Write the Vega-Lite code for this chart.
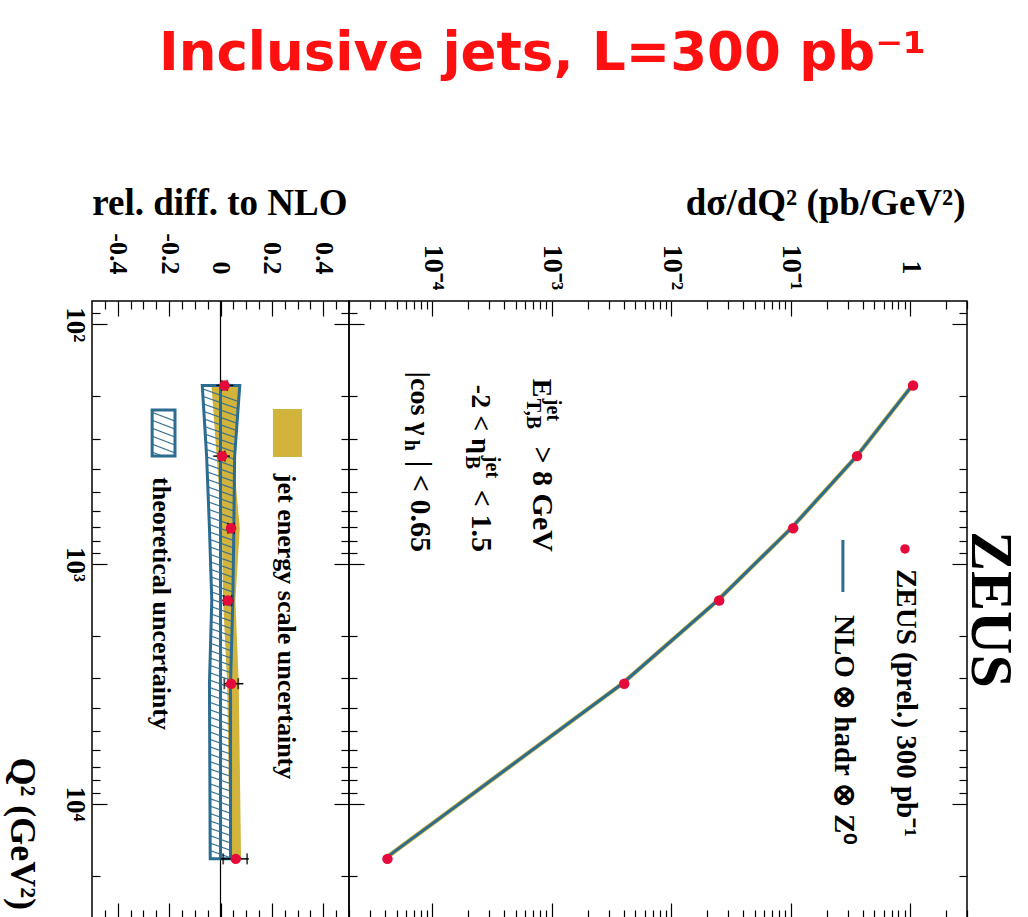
{
  "$schema": "https://vega.github.io/schema/vega-lite/v6.json",
  "background": "white",
  "autosize": {"type": "pad"},
  "padding": {"left": 2, "top": 28, "right": 0, "bottom": 0},
  "title": {
    "text": "Inclusive jets, L=300 pb⁻¹",
    "font": "DejaVu Sans",
    "fontSize": 53,
    "fontWeight": "bold",
    "color": "#ff1010",
    "anchor": "start",
    "frame": "group",
    "baseline": "alphabetic",
    "offset": 60,
    "dx": 67
  },
  "datasets": {
    "xsec": [
      {"q2": 180, "xs": 1.06, "nlo": 1.044},
      {"q2": 355, "xs": 0.36, "nlo": 0.358},
      {"q2": 710, "xs": 0.105, "nlo": 0.101},
      {"q2": 1420, "xs": 0.0252, "nlo": 0.0245},
      {"q2": 3160, "xs": 0.00404, "nlo": 0.00388},
      {"q2": 17000, "xs": 0.000042, "nlo": 0.0000397}
    ],
    "ratio": [
      {"q2": 180, "r": 0.0155, "tot_lo": -0.016, "tot_hi": 0.05, "stat_lo": 0.005, "stat_hi": 0.026, "jes_lo": -0.035, "jes_hi": 0.072, "th_lo": -0.071, "th_hi": 0.075},
      {"q2": 355, "r": 0.0066, "tot_lo": -0.028, "tot_hi": 0.036, "stat_lo": -0.004, "stat_hi": 0.017, "jes_lo": -0.015, "jes_hi": 0.05, "th_lo": -0.054, "th_hi": 0.055},
      {"q2": 710, "r": 0.041, "tot_lo": 0.022, "tot_hi": 0.06, "stat_lo": 0.029, "stat_hi": 0.053, "jes_lo": 0.005, "jes_hi": 0.075, "th_lo": -0.043, "th_hi": 0.052},
      {"q2": 1420, "r": 0.028, "tot_lo": 0.006, "tot_hi": 0.05, "stat_lo": 0.013, "stat_hi": 0.043, "jes_lo": 0.01, "jes_hi": 0.058, "th_lo": -0.034, "th_hi": 0.048},
      {"q2": 3160, "r": 0.0415, "tot_lo": 0.015, "tot_hi": 0.089, "stat_lo": 0.015, "stat_hi": 0.069, "jes_lo": 0.026, "jes_hi": 0.071, "th_lo": -0.043, "th_hi": 0.039},
      {"q2": 17000, "r": 0.0594, "tot_lo": 0.0, "tot_hi": 0.11, "stat_lo": 0.0105, "stat_hi": 0.1036, "jes_lo": 0.036, "jes_hi": 0.08, "th_lo": -0.04, "th_hi": 0.039}
    ]
  },
  "spacing": 0,
  "bounds": "flush",
  "resolve": {"scale": {"x": "independent", "y": "independent"}},
  "hconcat": [
    {
      "width": 257,
      "height": 617,
      "resolve": {"axis": {"x": "independent", "y": "independent"}},
      "layer": [
        {
          "data": {"values": [{}]},
          "mark": {"type": "rule", "color": "black", "strokeWidth": 1.2},
          "encoding": {
            "x": {"datum": 0, "type": "quantitative", "scale": {"domain": [-0.5, 0.5]}, "axis": null}
          }
        },
        {
          "data": {"name": "ratio"},
          "mark": {"type": "area", "orient": "horizontal", "color": "#d2b33c"},
          "encoding": {
            "y": {
              "field": "q2", "type": "quantitative",
              "scale": {"type": "log", "domain": [80, 30000], "reverse": true},
              "axis": {
                "orient": "left",
                "values": [90, 100, 200, 300, 400, 500, 600, 700, 800, 900, 1000, 2000, 3000, 4000, 5000, 6000, 7000, 8000, 9000, 10000, 20000],
                "tickSize": {"condition": {"test": "abs(log(datum.value)/LN10 - round(log(datum.value)/LN10)) < 0.001", "value": -15}, "value": -8},
                "labelExpr": "abs(log(datum.value)/LN10 - round(log(datum.value)/LN10)) < 0.001 ? ['10²','10³','10⁴'][round(log(datum.value)/LN10)-2] : ''",
                "labelAngle": 90,
                "labelAlign": "center",
                "labelBaseline": "top",
                "labelPadding": 20,
                "labelFontSize": 27,
                "title": "Q² (GeV²)",
                "titleFontSize": 36,
                "titleAngle": 90,
                "titleAlign": "left",
                "titleBaseline": "alphabetic",
                "titleX": -82,
                "titleY": 456
              }
            },
            "x": {
              "field": "jes_lo", "type": "quantitative",
              "scale": {"domain": [-0.5, 0.5]},
              "axis": {
                "orient": "top",
                "values": [-0.45, -0.4, -0.35, -0.3, -0.25, -0.2, -0.15, -0.1, -0.05, 0, 0.05, 0.1, 0.15, 0.2, 0.25, 0.3, 0.35, 0.4, 0.45],
                "tickSize": {"condition": {"test": "abs(datum.value*5 - round(datum.value*5)) < 0.001", "value": -15}, "value": -8},
                "labelExpr": "abs(datum.value*5 - round(datum.value*5)) < 0.001 ? (abs(datum.value) < 0.001 ? '0' : (datum.value < 0 ? '-' : '') + format(abs(datum.value), '.1f')) : ''",
                "labelAngle": 90,
                "labelAlign": "right",
                "labelBaseline": "middle",
                "labelPadding": 42,
                "labelFontSize": 26,
                "title": "rel. diff. to NLO",
                "titleFontSize": 37,
                "titleAngle": 0,
                "titleAlign": "right",
                "titleBaseline": "alphabetic",
                "titleX": 255,
                "titleY": -87
              }
            },
            "x2": {"field": "jes_hi"}
          }
        },
        {
          "data": {"name": "ratio"},
          "mark": {
            "type": "area",
            "orient": "horizontal",
            "stroke": "#2b6c90",
            "strokeWidth": 3,
            "fill": {
              "gradient": "linear", "x1": 0.028, "y1": 0, "x2": 0, "y2": 1,
              "stops": [
                {"offset": 0.0053, "color": "rgba(43,108,144,0)"}, {"offset": 0.0078, "color": "#2b6c90"}, {"offset": 0.0103, "color": "rgba(43,108,144,0)"},
                {"offset": 0.0209, "color": "rgba(43,108,144,0)"}, {"offset": 0.0234, "color": "#2b6c90"}, {"offset": 0.0259, "color": "rgba(43,108,144,0)"},
                {"offset": 0.0366, "color": "rgba(43,108,144,0)"}, {"offset": 0.0391, "color": "#2b6c90"}, {"offset": 0.0416, "color": "rgba(43,108,144,0)"},
                {"offset": 0.0522, "color": "rgba(43,108,144,0)"}, {"offset": 0.0547, "color": "#2b6c90"}, {"offset": 0.0572, "color": "rgba(43,108,144,0)"},
                {"offset": 0.0678, "color": "rgba(43,108,144,0)"}, {"offset": 0.0703, "color": "#2b6c90"}, {"offset": 0.0728, "color": "rgba(43,108,144,0)"},
                {"offset": 0.0834, "color": "rgba(43,108,144,0)"}, {"offset": 0.0859, "color": "#2b6c90"}, {"offset": 0.0884, "color": "rgba(43,108,144,0)"},
                {"offset": 0.0991, "color": "rgba(43,108,144,0)"}, {"offset": 0.1016, "color": "#2b6c90"}, {"offset": 0.1041, "color": "rgba(43,108,144,0)"},
                {"offset": 0.1147, "color": "rgba(43,108,144,0)"}, {"offset": 0.1172, "color": "#2b6c90"}, {"offset": 0.1197, "color": "rgba(43,108,144,0)"},
                {"offset": 0.1303, "color": "rgba(43,108,144,0)"}, {"offset": 0.1328, "color": "#2b6c90"}, {"offset": 0.1353, "color": "rgba(43,108,144,0)"},
                {"offset": 0.1459, "color": "rgba(43,108,144,0)"}, {"offset": 0.1484, "color": "#2b6c90"}, {"offset": 0.1509, "color": "rgba(43,108,144,0)"},
                {"offset": 0.1616, "color": "rgba(43,108,144,0)"}, {"offset": 0.1641, "color": "#2b6c90"}, {"offset": 0.1666, "color": "rgba(43,108,144,0)"},
                {"offset": 0.1772, "color": "rgba(43,108,144,0)"}, {"offset": 0.1797, "color": "#2b6c90"}, {"offset": 0.1822, "color": "rgba(43,108,144,0)"},
                {"offset": 0.1928, "color": "rgba(43,108,144,0)"}, {"offset": 0.1953, "color": "#2b6c90"}, {"offset": 0.1978, "color": "rgba(43,108,144,0)"},
                {"offset": 0.2084, "color": "rgba(43,108,144,0)"}, {"offset": 0.2109, "color": "#2b6c90"}, {"offset": 0.2134, "color": "rgba(43,108,144,0)"},
                {"offset": 0.2241, "color": "rgba(43,108,144,0)"}, {"offset": 0.2266, "color": "#2b6c90"}, {"offset": 0.2291, "color": "rgba(43,108,144,0)"},
                {"offset": 0.2397, "color": "rgba(43,108,144,0)"}, {"offset": 0.2422, "color": "#2b6c90"}, {"offset": 0.2447, "color": "rgba(43,108,144,0)"},
                {"offset": 0.2553, "color": "rgba(43,108,144,0)"}, {"offset": 0.2578, "color": "#2b6c90"}, {"offset": 0.2603, "color": "rgba(43,108,144,0)"},
                {"offset": 0.2709, "color": "rgba(43,108,144,0)"}, {"offset": 0.2734, "color": "#2b6c90"}, {"offset": 0.2759, "color": "rgba(43,108,144,0)"},
                {"offset": 0.2866, "color": "rgba(43,108,144,0)"}, {"offset": 0.2891, "color": "#2b6c90"}, {"offset": 0.2916, "color": "rgba(43,108,144,0)"},
                {"offset": 0.3022, "color": "rgba(43,108,144,0)"}, {"offset": 0.3047, "color": "#2b6c90"}, {"offset": 0.3072, "color": "rgba(43,108,144,0)"},
                {"offset": 0.3178, "color": "rgba(43,108,144,0)"}, {"offset": 0.3203, "color": "#2b6c90"}, {"offset": 0.3228, "color": "rgba(43,108,144,0)"},
                {"offset": 0.3334, "color": "rgba(43,108,144,0)"}, {"offset": 0.3359, "color": "#2b6c90"}, {"offset": 0.3384, "color": "rgba(43,108,144,0)"},
                {"offset": 0.3491, "color": "rgba(43,108,144,0)"}, {"offset": 0.3516, "color": "#2b6c90"}, {"offset": 0.3541, "color": "rgba(43,108,144,0)"},
                {"offset": 0.3647, "color": "rgba(43,108,144,0)"}, {"offset": 0.3672, "color": "#2b6c90"}, {"offset": 0.3697, "color": "rgba(43,108,144,0)"},
                {"offset": 0.3803, "color": "rgba(43,108,144,0)"}, {"offset": 0.3828, "color": "#2b6c90"}, {"offset": 0.3853, "color": "rgba(43,108,144,0)"},
                {"offset": 0.3959, "color": "rgba(43,108,144,0)"}, {"offset": 0.3984, "color": "#2b6c90"}, {"offset": 0.4009, "color": "rgba(43,108,144,0)"},
                {"offset": 0.4116, "color": "rgba(43,108,144,0)"}, {"offset": 0.4141, "color": "#2b6c90"}, {"offset": 0.4166, "color": "rgba(43,108,144,0)"},
                {"offset": 0.4272, "color": "rgba(43,108,144,0)"}, {"offset": 0.4297, "color": "#2b6c90"}, {"offset": 0.4322, "color": "rgba(43,108,144,0)"},
                {"offset": 0.4428, "color": "rgba(43,108,144,0)"}, {"offset": 0.4453, "color": "#2b6c90"}, {"offset": 0.4478, "color": "rgba(43,108,144,0)"},
                {"offset": 0.4584, "color": "rgba(43,108,144,0)"}, {"offset": 0.4609, "color": "#2b6c90"}, {"offset": 0.4634, "color": "rgba(43,108,144,0)"},
                {"offset": 0.4741, "color": "rgba(43,108,144,0)"}, {"offset": 0.4766, "color": "#2b6c90"}, {"offset": 0.4791, "color": "rgba(43,108,144,0)"},
                {"offset": 0.4897, "color": "rgba(43,108,144,0)"}, {"offset": 0.4922, "color": "#2b6c90"}, {"offset": 0.4947, "color": "rgba(43,108,144,0)"},
                {"offset": 0.5053, "color": "rgba(43,108,144,0)"}, {"offset": 0.5078, "color": "#2b6c90"}, {"offset": 0.5103, "color": "rgba(43,108,144,0)"},
                {"offset": 0.5209, "color": "rgba(43,108,144,0)"}, {"offset": 0.5234, "color": "#2b6c90"}, {"offset": 0.5259, "color": "rgba(43,108,144,0)"},
                {"offset": 0.5366, "color": "rgba(43,108,144,0)"}, {"offset": 0.5391, "color": "#2b6c90"}, {"offset": 0.5416, "color": "rgba(43,108,144,0)"},
                {"offset": 0.5522, "color": "rgba(43,108,144,0)"}, {"offset": 0.5547, "color": "#2b6c90"}, {"offset": 0.5572, "color": "rgba(43,108,144,0)"},
                {"offset": 0.5678, "color": "rgba(43,108,144,0)"}, {"offset": 0.5703, "color": "#2b6c90"}, {"offset": 0.5728, "color": "rgba(43,108,144,0)"},
                {"offset": 0.5834, "color": "rgba(43,108,144,0)"}, {"offset": 0.5859, "color": "#2b6c90"}, {"offset": 0.5884, "color": "rgba(43,108,144,0)"},
                {"offset": 0.5991, "color": "rgba(43,108,144,0)"}, {"offset": 0.6016, "color": "#2b6c90"}, {"offset": 0.6041, "color": "rgba(43,108,144,0)"},
                {"offset": 0.6147, "color": "rgba(43,108,144,0)"}, {"offset": 0.6172, "color": "#2b6c90"}, {"offset": 0.6197, "color": "rgba(43,108,144,0)"},
                {"offset": 0.6303, "color": "rgba(43,108,144,0)"}, {"offset": 0.6328, "color": "#2b6c90"}, {"offset": 0.6353, "color": "rgba(43,108,144,0)"},
                {"offset": 0.6459, "color": "rgba(43,108,144,0)"}, {"offset": 0.6484, "color": "#2b6c90"}, {"offset": 0.6509, "color": "rgba(43,108,144,0)"},
                {"offset": 0.6616, "color": "rgba(43,108,144,0)"}, {"offset": 0.6641, "color": "#2b6c90"}, {"offset": 0.6666, "color": "rgba(43,108,144,0)"},
                {"offset": 0.6772, "color": "rgba(43,108,144,0)"}, {"offset": 0.6797, "color": "#2b6c90"}, {"offset": 0.6822, "color": "rgba(43,108,144,0)"},
                {"offset": 0.6928, "color": "rgba(43,108,144,0)"}, {"offset": 0.6953, "color": "#2b6c90"}, {"offset": 0.6978, "color": "rgba(43,108,144,0)"},
                {"offset": 0.7084, "color": "rgba(43,108,144,0)"}, {"offset": 0.7109, "color": "#2b6c90"}, {"offset": 0.7134, "color": "rgba(43,108,144,0)"},
                {"offset": 0.7241, "color": "rgba(43,108,144,0)"}, {"offset": 0.7266, "color": "#2b6c90"}, {"offset": 0.7291, "color": "rgba(43,108,144,0)"},
                {"offset": 0.7397, "color": "rgba(43,108,144,0)"}, {"offset": 0.7422, "color": "#2b6c90"}, {"offset": 0.7447, "color": "rgba(43,108,144,0)"},
                {"offset": 0.7553, "color": "rgba(43,108,144,0)"}, {"offset": 0.7578, "color": "#2b6c90"}, {"offset": 0.7603, "color": "rgba(43,108,144,0)"},
                {"offset": 0.7709, "color": "rgba(43,108,144,0)"}, {"offset": 0.7734, "color": "#2b6c90"}, {"offset": 0.7759, "color": "rgba(43,108,144,0)"},
                {"offset": 0.7866, "color": "rgba(43,108,144,0)"}, {"offset": 0.7891, "color": "#2b6c90"}, {"offset": 0.7916, "color": "rgba(43,108,144,0)"},
                {"offset": 0.8022, "color": "rgba(43,108,144,0)"}, {"offset": 0.8047, "color": "#2b6c90"}, {"offset": 0.8072, "color": "rgba(43,108,144,0)"},
                {"offset": 0.8178, "color": "rgba(43,108,144,0)"}, {"offset": 0.8203, "color": "#2b6c90"}, {"offset": 0.8228, "color": "rgba(43,108,144,0)"},
                {"offset": 0.8334, "color": "rgba(43,108,144,0)"}, {"offset": 0.8359, "color": "#2b6c90"}, {"offset": 0.8384, "color": "rgba(43,108,144,0)"},
                {"offset": 0.8491, "color": "rgba(43,108,144,0)"}, {"offset": 0.8516, "color": "#2b6c90"}, {"offset": 0.8541, "color": "rgba(43,108,144,0)"},
                {"offset": 0.8647, "color": "rgba(43,108,144,0)"}, {"offset": 0.8672, "color": "#2b6c90"}, {"offset": 0.8697, "color": "rgba(43,108,144,0)"},
                {"offset": 0.8803, "color": "rgba(43,108,144,0)"}, {"offset": 0.8828, "color": "#2b6c90"}, {"offset": 0.8853, "color": "rgba(43,108,144,0)"},
                {"offset": 0.8959, "color": "rgba(43,108,144,0)"}, {"offset": 0.8984, "color": "#2b6c90"}, {"offset": 0.9009, "color": "rgba(43,108,144,0)"},
                {"offset": 0.9116, "color": "rgba(43,108,144,0)"}, {"offset": 0.9141, "color": "#2b6c90"}, {"offset": 0.9166, "color": "rgba(43,108,144,0)"},
                {"offset": 0.9272, "color": "rgba(43,108,144,0)"}, {"offset": 0.9297, "color": "#2b6c90"}, {"offset": 0.9322, "color": "rgba(43,108,144,0)"},
                {"offset": 0.9428, "color": "rgba(43,108,144,0)"}, {"offset": 0.9453, "color": "#2b6c90"}, {"offset": 0.9478, "color": "rgba(43,108,144,0)"},
                {"offset": 0.9584, "color": "rgba(43,108,144,0)"}, {"offset": 0.9609, "color": "#2b6c90"}, {"offset": 0.9634, "color": "rgba(43,108,144,0)"},
                {"offset": 0.9741, "color": "rgba(43,108,144,0)"}, {"offset": 0.9766, "color": "#2b6c90"}, {"offset": 0.9791, "color": "rgba(43,108,144,0)"},
                {"offset": 0.9897, "color": "rgba(43,108,144,0)"}, {"offset": 0.9922, "color": "#2b6c90"}, {"offset": 0.9947, "color": "rgba(43,108,144,0)"}
              ]
            }
          },
          "encoding": {
            "y": {
              "field": "q2", "type": "quantitative",
              "scale": {"type": "log", "domain": [80, 30000], "reverse": true},
              "axis": {
                "orient": "right",
                "values": [90, 100, 200, 300, 400, 500, 600, 700, 800, 900, 1000, 2000, 3000, 4000, 5000, 6000, 7000, 8000, 9000, 10000, 20000],
                "tickSize": {"condition": {"test": "abs(log(datum.value)/LN10 - round(log(datum.value)/LN10)) < 0.001", "value": -15}, "value": -8},
                "labels": false,
                "title": null
              }
            },
            "x": {
              "field": "th_lo", "type": "quantitative",
              "scale": {"domain": [-0.5, 0.5]},
              "axis": {
                "orient": "bottom",
                "values": [-0.45, -0.4, -0.35, -0.3, -0.25, -0.2, -0.15, -0.1, -0.05, 0, 0.05, 0.1, 0.15, 0.2, 0.25, 0.3, 0.35, 0.4, 0.45],
                "tickSize": {"condition": {"test": "abs(datum.value*5 - round(datum.value*5)) < 0.001", "value": -15}, "value": -8},
                "labels": false,
                "title": null
              }
            },
            "x2": {"field": "th_hi"}
          }
        },
        {
          "data": {"name": "ratio"},
          "mark": {"type": "line", "color": "#2b6c90", "strokeWidth": 3},
          "encoding": {
            "y": {"field": "q2", "type": "quantitative", "scale": {"type": "log", "domain": [80, 30000], "reverse": true}, "axis": null},
            "x": {"datum": 0, "type": "quantitative", "scale": {"domain": [-0.5, 0.5]}, "axis": null}
          }
        },
        {
          "data": {"name": "ratio"},
          "mark": {"type": "rule", "color": "black", "strokeWidth": 1.5},
          "encoding": {
            "y": {"field": "q2", "type": "quantitative", "scale": {"type": "log", "domain": [80, 30000], "reverse": true}, "axis": null},
            "x": {"field": "tot_lo", "type": "quantitative", "scale": {"domain": [-0.5, 0.5]}, "axis": null},
            "x2": {"field": "tot_hi"}
          }
        },
        {
          "data": {"name": "ratio"},
          "mark": {"type": "tick", "orient": "vertical", "color": "black", "size": 11, "thickness": 1.8},
          "encoding": {
            "y": {"field": "q2", "type": "quantitative", "scale": {"type": "log", "domain": [80, 30000], "reverse": true}, "axis": null},
            "x": {"field": "stat_lo", "type": "quantitative", "scale": {"domain": [-0.5, 0.5]}, "axis": null}
          }
        },
        {
          "data": {"name": "ratio"},
          "mark": {"type": "tick", "orient": "vertical", "color": "black", "size": 11, "thickness": 1.8},
          "encoding": {
            "y": {"field": "q2", "type": "quantitative", "scale": {"type": "log", "domain": [80, 30000], "reverse": true}, "axis": null},
            "x": {"field": "stat_hi", "type": "quantitative", "scale": {"domain": [-0.5, 0.5]}, "axis": null}
          }
        },
        {
          "data": {"name": "ratio"},
          "mark": {"type": "circle", "color": "#e60a3c", "size": 110, "opacity": 1},
          "encoding": {
            "y": {"field": "q2", "type": "quantitative", "scale": {"type": "log", "domain": [80, 30000], "reverse": true}, "axis": null},
            "x": {"field": "r", "type": "quantitative", "scale": {"domain": [-0.5, 0.5]}, "axis": null}
          }
        },
        {
          "data": {"values": [{}]},
          "mark": {"type": "rect", "color": "#d2b33c"},
          "encoding": {
            "y": {"datum": 226, "type": "quantitative", "scale": {"type": "log", "domain": [80, 30000], "reverse": true}, "axis": null},
            "y2": {"datum": 358},
            "x": {"datum": 0.204, "type": "quantitative", "scale": {"domain": [-0.5, 0.5]}, "axis": null},
            "x2": {"datum": 0.317}
          }
        },
        {
          "data": {"values": [{}]},
          "mark": {
            "type": "rect",
            "stroke": "#2b6c90",
            "strokeWidth": 3,
            "fill": {
              "gradient": "linear", "x1": 0.19, "y1": 0, "x2": 0, "y2": 1,
              "stops": [
                {"offset": 0.0583, "color": "rgba(43,108,144,0)"}, {"offset": 0.0833, "color": "#2b6c90"}, {"offset": 0.1083, "color": "rgba(43,108,144,0)"},
                {"offset": 0.225, "color": "rgba(43,108,144,0)"}, {"offset": 0.25, "color": "#2b6c90"}, {"offset": 0.275, "color": "rgba(43,108,144,0)"},
                {"offset": 0.3917, "color": "rgba(43,108,144,0)"}, {"offset": 0.4167, "color": "#2b6c90"}, {"offset": 0.4417, "color": "rgba(43,108,144,0)"},
                {"offset": 0.5583, "color": "rgba(43,108,144,0)"}, {"offset": 0.5833, "color": "#2b6c90"}, {"offset": 0.6083, "color": "rgba(43,108,144,0)"},
                {"offset": 0.725, "color": "rgba(43,108,144,0)"}, {"offset": 0.75, "color": "#2b6c90"}, {"offset": 0.775, "color": "rgba(43,108,144,0)"},
                {"offset": 0.8917, "color": "rgba(43,108,144,0)"}, {"offset": 0.9167, "color": "#2b6c90"}, {"offset": 0.9417, "color": "rgba(43,108,144,0)"}
              ]
            }
          },
          "encoding": {
            "y": {"datum": 228, "type": "quantitative", "scale": {"type": "log", "domain": [80, 30000], "reverse": true}, "axis": null},
            "y2": {"datum": 355},
            "x": {"datum": -0.266, "type": "quantitative", "scale": {"domain": [-0.5, 0.5]}, "axis": null},
            "x2": {"datum": -0.177}
          }
        },
        {
          "data": {"values": [{}]},
          "mark": {"type": "text", "text": "jet energy scale uncertainty", "fontSize": 26, "align": "left", "baseline": "alphabetic"},
          "encoding": {
            "y": {"datum": 421, "type": "quantitative", "scale": {"type": "log", "domain": [80, 30000], "reverse": true}, "axis": null},
            "x": {"datum": 0.224, "type": "quantitative", "scale": {"domain": [-0.5, 0.5]}, "axis": null}
          }
        },
        {
          "data": {"values": [{}]},
          "mark": {"type": "text", "text": "theoretical uncertainty", "fontSize": 26, "align": "left", "baseline": "alphabetic"},
          "encoding": {
            "y": {"datum": 434, "type": "quantitative", "scale": {"type": "log", "domain": [80, 30000], "reverse": true}, "axis": null},
            "x": {"datum": -0.263, "type": "quantitative", "scale": {"domain": [-0.5, 0.5]}, "axis": null}
          }
        }
      ]
    },
    {
      "width": 618,
      "height": 617,
      "resolve": {"axis": {"x": "independent", "y": "independent"}},
      "layer": [
        {
          "data": {"name": "xsec"},
          "mark": {"type": "line", "color": "#d2b33c", "strokeWidth": 4.5},
          "encoding": {
            "y": {
              "field": "q2", "type": "quantitative",
              "scale": {"type": "log", "domain": [80, 30000], "reverse": true},
              "axis": {
                "orient": "left",
                "values": [90, 100, 200, 300, 400, 500, 600, 700, 800, 900, 1000, 2000, 3000, 4000, 5000, 6000, 7000, 8000, 9000, 10000, 20000],
                "tickSize": {"condition": {"test": "abs(log(datum.value)/LN10 - round(log(datum.value)/LN10)) < 0.001", "value": -15}, "value": -8},
                "labels": false,
                "title": null
              }
            },
            "x": {
              "field": "nlo", "type": "quantitative",
              "scale": {"type": "log", "domain": [0.00002, 3]},
              "axis": {
                "orient": "top",
                "values": [0.00002, 0.00003, 0.00004, 0.00005, 0.00006, 0.00007, 0.00008, 0.00009, 0.0001, 0.0002, 0.0003, 0.0004, 0.0005, 0.0006, 0.0007, 0.0008, 0.0009, 0.001, 0.002, 0.003, 0.004, 0.005, 0.006, 0.007, 0.008, 0.009, 0.01, 0.02, 0.03, 0.04, 0.05, 0.06, 0.07, 0.08, 0.09, 0.1, 0.2, 0.3, 0.4, 0.5, 0.6, 0.7, 0.8, 0.9, 1, 2, 3],
                "tickSize": {"condition": {"test": "abs(log(datum.value)/LN10 - round(log(datum.value)/LN10)) < 0.001", "value": -15}, "value": -8},
                "labelExpr": "abs(log(datum.value)/LN10 - round(log(datum.value)/LN10)) < 0.001 ? ['10⁻⁴','10⁻³','10⁻²','10⁻¹','1'][round(log(datum.value)/LN10)+4] : ''",
                "labelAngle": 90,
                "labelAlign": "center",
                "labelBaseline": "middle",
                "labelPadding": 49,
                "labelFontSize": 28,
                "title": "dσ/dQ² (pb/GeV²)",
                "titleFontSize": 37,
                "titleAngle": 0,
                "titleAlign": "right",
                "titleBaseline": "alphabetic",
                "titleX": 616,
                "titleY": -87
              }
            }
          }
        },
        {
          "data": {"name": "xsec"},
          "mark": {"type": "line", "color": "#2b6c90", "strokeWidth": 3},
          "encoding": {
            "y": {
              "field": "q2", "type": "quantitative",
              "scale": {"type": "log", "domain": [80, 30000], "reverse": true},
              "axis": {
                "orient": "right",
                "values": [90, 100, 200, 300, 400, 500, 600, 700, 800, 900, 1000, 2000, 3000, 4000, 5000, 6000, 7000, 8000, 9000, 10000, 20000],
                "tickSize": {"condition": {"test": "abs(log(datum.value)/LN10 - round(log(datum.value)/LN10)) < 0.001", "value": -15}, "value": -8},
                "labels": false,
                "title": null
              }
            },
            "x": {
              "field": "nlo", "type": "quantitative",
              "scale": {"type": "log", "domain": [0.00002, 3]},
              "axis": {
                "orient": "bottom",
                "values": [0.00002, 0.00003, 0.00004, 0.00005, 0.00006, 0.00007, 0.00008, 0.00009, 0.0001, 0.0002, 0.0003, 0.0004, 0.0005, 0.0006, 0.0007, 0.0008, 0.0009, 0.001, 0.002, 0.003, 0.004, 0.005, 0.006, 0.007, 0.008, 0.009, 0.01, 0.02, 0.03, 0.04, 0.05, 0.06, 0.07, 0.08, 0.09, 0.1, 0.2, 0.3, 0.4, 0.5, 0.6, 0.7, 0.8, 0.9, 1, 2, 3],
                "tickSize": {"condition": {"test": "abs(log(datum.value)/LN10 - round(log(datum.value)/LN10)) < 0.001", "value": -15}, "value": -8},
                "labels": false,
                "title": null
              }
            }
          }
        },
        {
          "data": {"name": "xsec"},
          "mark": {"type": "circle", "color": "#e60a3c", "size": 110, "opacity": 1},
          "encoding": {
            "y": {"field": "q2", "type": "quantitative", "scale": {"type": "log", "domain": [80, 30000], "reverse": true}, "axis": null},
            "x": {"field": "xs", "type": "quantitative", "scale": {"type": "log", "domain": [0.00002, 3]}, "axis": null}
          }
        },
        {
          "data": {"values": [{}]},
          "mark": {"type": "circle", "color": "#e60a3c", "size": 90, "opacity": 1},
          "encoding": {
            "y": {"datum": 866, "type": "quantitative", "scale": {"type": "log", "domain": [80, 30000], "reverse": true}, "axis": null},
            "x": {"datum": 0.907, "type": "quantitative", "scale": {"type": "log", "domain": [0.00002, 3]}, "axis": null}
          }
        },
        {
          "data": {"values": [{}]},
          "mark": {"type": "rule", "color": "#2b6c90", "strokeWidth": 3},
          "encoding": {
            "y": {"datum": 794, "type": "quantitative", "scale": {"type": "log", "domain": [80, 30000], "reverse": true}, "axis": null},
            "y2": {"datum": 1309},
            "x": {"datum": 0.274, "type": "quantitative", "scale": {"type": "log", "domain": [0.00002, 3]}, "axis": null}
          }
        },
        {
          "data": {"values": [{}]},
          "mark": {"type": "text", "text": "ZEUS", "fontSize": 60, "align": "left", "baseline": "alphabetic"},
          "encoding": {
            "y": {"datum": 729, "type": "quantitative", "scale": {"type": "log", "domain": [80, 30000], "reverse": true}, "axis": null},
            "x": {"datum": 3.3, "type": "quantitative", "scale": {"type": "log", "domain": [0.00002, 3]}, "axis": null}
          }
        },
        {
          "data": {"values": [{}]},
          "mark": {"type": "text", "text": "ZEUS (prel.) 300 pb⁻¹", "fontSize": 29, "align": "left", "baseline": "alphabetic"},
          "encoding": {
            "y": {"datum": 1050, "type": "quantitative", "scale": {"type": "log", "domain": [80, 30000], "reverse": true}, "axis": null},
            "x": {"datum": 0.777, "type": "quantitative", "scale": {"type": "log", "domain": [0.00002, 3]}, "axis": null}
          }
        },
        {
          "data": {"values": [{}]},
          "mark": {"type": "text", "text": "NLO ⊗ hadr ⊗ Z⁰", "fontSize": 29, "align": "left", "baseline": "alphabetic"},
          "encoding": {
            "y": {"datum": 1633, "type": "quantitative", "scale": {"type": "log", "domain": [80, 30000], "reverse": true}, "axis": null},
            "x": {"datum": 0.235, "type": "quantitative", "scale": {"type": "log", "domain": [0.00002, 3]}, "axis": null}
          }
        },
        {
          "data": {"values": [{}]},
          "mark": {"type": "text", "text": "E", "fontSize": 28, "align": "left", "baseline": "alphabetic"},
          "encoding": {
            "y": {"datum": 169, "type": "quantitative", "scale": {"type": "log", "domain": [80, 30000], "reverse": true}, "axis": null},
            "x": {"datum": 0.000695, "type": "quantitative", "scale": {"type": "log", "domain": [0.00002, 3]}, "axis": null}
          }
        },
        {
          "data": {"values": [{}]},
          "mark": {"type": "text", "text": "jet", "fontSize": 20, "align": "left", "baseline": "alphabetic", "dx": 20, "dy": -14},
          "encoding": {
            "y": {"datum": 169, "type": "quantitative", "scale": {"type": "log", "domain": [80, 30000], "reverse": true}, "axis": null},
            "x": {"datum": 0.000695, "type": "quantitative", "scale": {"type": "log", "domain": [0.00002, 3]}, "axis": null}
          }
        },
        {
          "data": {"values": [{}]},
          "mark": {"type": "text", "text": "T,B", "fontSize": 20, "align": "left", "baseline": "alphabetic", "dx": 20, "dy": 6},
          "encoding": {
            "y": {"datum": 169, "type": "quantitative", "scale": {"type": "log", "domain": [80, 30000], "reverse": true}, "axis": null},
            "x": {"datum": 0.000695, "type": "quantitative", "scale": {"type": "log", "domain": [0.00002, 3]}, "axis": null}
          }
        },
        {
          "data": {"values": [{}]},
          "mark": {"type": "text", "text": "> 8 GeV", "fontSize": 30, "align": "right", "baseline": "alphabetic"},
          "encoding": {
            "y": {"datum": 891, "type": "quantitative", "scale": {"type": "log", "domain": [80, 30000], "reverse": true}, "axis": null},
            "x": {"datum": 0.000695, "type": "quantitative", "scale": {"type": "log", "domain": [0.00002, 3]}, "axis": null}
          }
        },
        {
          "data": {"values": [{}]},
          "mark": {"type": "text", "text": "-2 < η", "fontSize": 28, "align": "left", "baseline": "alphabetic"},
          "encoding": {
            "y": {"datum": 179, "type": "quantitative", "scale": {"type": "log", "domain": [80, 30000], "reverse": true}, "axis": null},
            "x": {"datum": 0.000214, "type": "quantitative", "scale": {"type": "log", "domain": [0.00002, 3]}, "axis": null}
          }
        },
        {
          "data": {"values": [{}]},
          "mark": {"type": "text", "text": "jet", "fontSize": 20, "align": "left", "baseline": "alphabetic", "dx": 71, "dy": -14},
          "encoding": {
            "y": {"datum": 179, "type": "quantitative", "scale": {"type": "log", "domain": [80, 30000], "reverse": true}, "axis": null},
            "x": {"datum": 0.000214, "type": "quantitative", "scale": {"type": "log", "domain": [0.00002, 3]}, "axis": null}
          }
        },
        {
          "data": {"values": [{}]},
          "mark": {"type": "text", "text": "B", "fontSize": 20, "align": "left", "baseline": "alphabetic", "dx": 71, "dy": 6},
          "encoding": {
            "y": {"datum": 179, "type": "quantitative", "scale": {"type": "log", "domain": [80, 30000], "reverse": true}, "axis": null},
            "x": {"datum": 0.000214, "type": "quantitative", "scale": {"type": "log", "domain": [0.00002, 3]}, "axis": null}
          }
        },
        {
          "data": {"values": [{}]},
          "mark": {"type": "text", "text": "< 1.5", "fontSize": 30, "align": "right", "baseline": "alphabetic"},
          "encoding": {
            "y": {"datum": 891, "type": "quantitative", "scale": {"type": "log", "domain": [80, 30000], "reverse": true}, "axis": null},
            "x": {"datum": 0.000214, "type": "quantitative", "scale": {"type": "log", "domain": [0.00002, 3]}, "axis": null}
          }
        },
        {
          "data": {"values": [{}]},
          "mark": {"type": "text", "text": "|cos γ", "fontSize": 28, "align": "left", "baseline": "alphabetic"},
          "encoding": {
            "y": {"datum": 158, "type": "quantitative", "scale": {"type": "log", "domain": [80, 30000], "reverse": true}, "axis": null},
            "x": {"datum": 0.000066, "type": "quantitative", "scale": {"type": "log", "domain": [0.00002, 3]}, "axis": null}
          }
        },
        {
          "data": {"values": [{}]},
          "mark": {"type": "text", "text": "h", "fontSize": 20, "align": "left", "baseline": "alphabetic", "dx": 68, "dy": 6},
          "encoding": {
            "y": {"datum": 158, "type": "quantitative", "scale": {"type": "log", "domain": [80, 30000], "reverse": true}, "axis": null},
            "x": {"datum": 0.000066, "type": "quantitative", "scale": {"type": "log", "domain": [0.00002, 3]}, "axis": null}
          }
        },
        {
          "data": {"values": [{}]},
          "mark": {"type": "text", "text": "| < 0.65", "fontSize": 30, "align": "right", "baseline": "alphabetic"},
          "encoding": {
            "y": {"datum": 891, "type": "quantitative", "scale": {"type": "log", "domain": [80, 30000], "reverse": true}, "axis": null},
            "x": {"datum": 0.000066, "type": "quantitative", "scale": {"type": "log", "domain": [0.00002, 3]}, "axis": null}
          }
        }
      ]
    }
  ],
  "config": {
    "view": {"stroke": "black", "strokeWidth": 1.5},
    "axis": {
      "domain": false,
      "grid": false,
      "tickColor": "black",
      "tickWidth": 1.2,
      "labelFont": "Liberation Serif",
      "labelFontWeight": "bold",
      "labelColor": "black",
      "titleFont": "Liberation Serif",
      "titleFontWeight": "bold",
      "titleColor": "black",
      "labelOverlap": false,
      "labelFlush": false,
      "labelBound": false
    },
    "text": {"font": "Liberation Serif", "fontWeight": "bold", "color": "black", "angle": 90}
  }
}
